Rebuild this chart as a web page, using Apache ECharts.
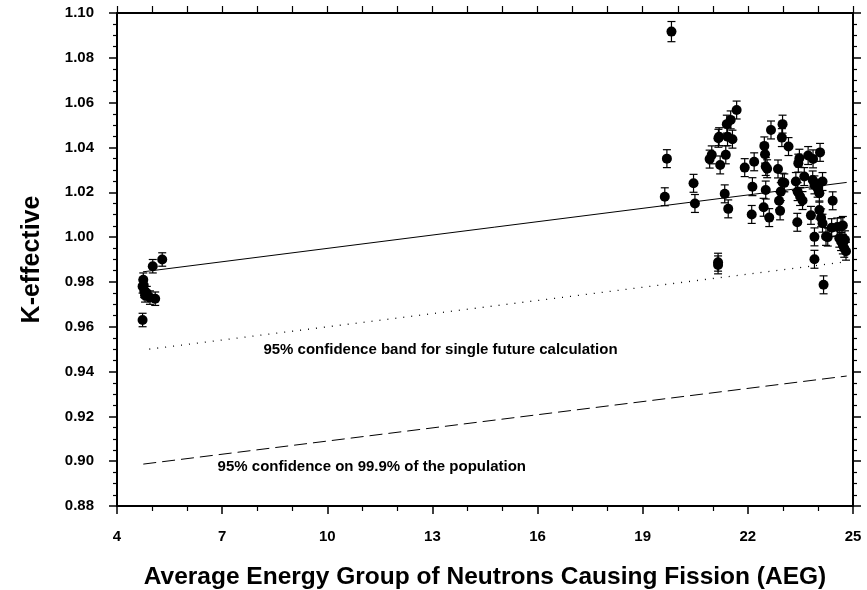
<!DOCTYPE html>
<html>
<head>
<meta charset="utf-8">
<script src="https://cdn.jsdelivr.net/npm/echarts@6/dist/echarts.min.js"></script>
<style>
  html, body { margin: 0; padding: 0; background: #fff; }
  #chart { width: 867px; height: 590px; }
</style>
</head>
<body>
<div id="chart"></div>
<script>
// 测量点: AEG, k-eff, 1-sigma
const aeg = [
    4.73, 4.75, 4.73, 4.76, 4.78, 4.80, 4.85, 4.94, 5.09, 5.02, 5.29,
    19.82, 19.69, 19.63, 20.45, 20.49, 20.91, 20.97, 21.21, 21.16, 21.18,
    21.37, 21.34, 21.44, 21.15, 21.15, 21.42, 21.56, 21.40, 21.51, 21.68,
    21.91, 22.18, 22.13, 22.11, 22.47, 22.49, 22.51, 22.55, 22.51, 22.45,
    22.61, 22.66, 22.86, 22.99, 22.97, 23.16, 22.99, 23.04, 22.94, 22.89,
    22.92, 23.37, 23.47, 23.44, 23.42, 23.49, 23.56, 23.41, 23.61, 23.72,
    23.86, 24.06, 23.85, 23.90, 23.99, 24.04, 24.13, 23.80, 24.04, 24.09,
    24.13, 23.90, 24.23, 24.28, 23.90, 24.16, 24.42, 24.39, 24.55, 24.66,
    24.71, 24.61, 24.66, 24.71, 24.75, 24.80, 24.77
];
const keff = [
    0.963, 0.981, 0.978, 0.9785, 0.976, 0.974, 0.975, 0.973, 0.9725, 0.987, 0.990,
    1.0917, 1.0350, 1.0180, 1.0240, 1.0150, 1.0348, 1.0367, 1.0322, 1.0441, 1.0448,
    1.0367, 1.0193, 1.0126, 0.9888, 0.9876, 1.0448, 1.0437, 1.0504, 1.0523, 1.0567,
    1.0310, 1.0336, 1.0225, 1.0101, 1.0407, 1.0370, 1.0315, 1.0305, 1.0210, 1.0133,
    1.0087, 1.0478, 1.0304, 1.0504, 1.0444, 1.0404, 1.0245, 1.0242, 1.0203, 1.0162,
    1.0117, 1.0248, 1.0352, 1.0330, 1.0203, 1.0181, 1.0163, 1.0066, 1.0270, 1.0364,
    1.0349, 1.0378, 1.0255, 1.0233, 1.0218, 1.0196, 1.0248, 1.0097, 1.0121, 1.0086,
    1.0062, 1.0001, 1.0003, 1.0000, 0.9901, 0.9787, 1.0162, 1.0042, 1.0045, 1.0047,
    1.0052, 0.9995, 0.9980, 0.9965, 0.9950, 0.9937, 0.9988
];
const sigma = aeg.map((x, i) => (i < 11 ? 0.003 : (i === 11 ? 0.0045 : 0.004)));

// 拟合线及置信带
const fitX = [4.74, 24.82];
const fitY = [0.9845, 1.0244];
const bandX = [4.92, 24.82];
const bandY = [0.9500, 0.9890];
const popX = [4.75, 24.82];
const popY = [0.8987, 0.9380];

const xTicks = [4, 7, 10, 13, 16, 19, 22, 25];

const points = aeg.map((x, i) => [x, keff[i]]);
const bars = aeg.map((x, i) => [x, keff[i] - sigma[i], keff[i] + sigma[i]]);

const FONT = "Liberation Sans, Arial, Helvetica, sans-serif";

const chart = echarts.init(document.getElementById("chart"));

function errorBar(params, api) {
    const x = api.value(0);
    const lo = api.coord([x, api.value(1)]);
    const hi = api.coord([x, api.value(2)]);
    const w = 4;
    const style = { stroke: "#000", lineWidth: 1.2 };
    return {
        type: "group",
        children: [
            { type: "line", shape: { x1: lo[0], y1: lo[1], x2: hi[0], y2: hi[1] }, style },
            { type: "line", shape: { x1: lo[0] - w, y1: lo[1], x2: lo[0] + w, y2: lo[1] }, style },
            { type: "line", shape: { x1: hi[0] - w, y1: hi[1], x2: hi[0] + w, y2: hi[1] }, style },
        ],
    };
}

const axisLine = { show: true, onZero: false, lineStyle: { color: "#000", width: 2 } };

chart.setOption({
    animation: false,
    textStyle: { fontFamily: FONT },
    grid: { left: 117, right: 14, top: 13, bottom: 84, containLabel: false, outerBoundsMode: "none" },
    xAxis: [{
        type: "value",
        min: 4, max: 25, interval: 3,
        position: "bottom",
        axisLine,
        axisTick: { show: true, length: 8, lineStyle: { color: "#000", width: 1.5 } },
        minorTick: { show: true, splitNumber: 3, length: 5, lineStyle: { color: "#000", width: 1.2 } },
        splitLine: { show: false },
        axisLabel: {
            margin: 23, color: "#000", fontSize: 15, fontWeight: "bold", fontFamily: FONT,
            formatter: (v) => (xTicks.includes(v) ? String(v) : ""),
        },
        name: "Average Energy Group of Neutrons Causing Fission (AEG)",
        nameLocation: "middle",
        nameGap: 59,
        nameTextStyle: { color: "#000", fontSize: 24.5, fontWeight: "bold", fontFamily: FONT },
    }, {
        type: "value",
        min: 4, max: 25, interval: 1,
        position: "top",
        axisLine,
        axisTick: { show: true, length: 7, lineStyle: { color: "#000", width: 1.2 } },
        axisLabel: { show: false },
        splitLine: { show: false },
    }],
    yAxis: [{
        type: "value",
        min: 0.88, max: 1.10, interval: 0.02,
        position: "left",
        axisLine,
        axisTick: { show: true, length: 8, lineStyle: { color: "#000", width: 1.5 } },
        minorTick: { show: true, splitNumber: 4, length: 4, lineStyle: { color: "#000", width: 1.2 } },
        splitLine: { show: false },
        axisLabel: {
            margin: 23, color: "#000", fontSize: 15, fontWeight: "bold", fontFamily: FONT,
            formatter: (v) => v.toFixed(2),
        },
        name: "K-effective",
        nameLocation: "middle",
        nameGap: 72,
        nameTextStyle: { color: "#000", fontSize: 25, fontWeight: "bold", fontFamily: FONT },
    }, {
        type: "value",
        min: 0.88, max: 1.10, interval: 0.02,
        position: "right",
        axisLine,
        axisTick: { show: true, length: 8, lineStyle: { color: "#000", width: 1.5 } },
        minorTick: { show: true, splitNumber: 4, length: 4, lineStyle: { color: "#000", width: 1.2 } },
        axisLabel: { show: false },
        splitLine: { show: false },
    }],
    series: [
        {
            type: "line",
            data: fitX.map((x, i) => [x, fitY[i]]),
            symbol: "none",
            lineStyle: { color: "#000", width: 1 },
            z: 2,
        },
        {
            type: "line",
            data: bandX.map((x, i) => [x, bandY[i]]),
            symbol: "none",
            lineStyle: { color: "#000", width: 1.3, type: [1, 7] },
            z: 2,
        },
        {
            type: "line",
            data: popX.map((x, i) => [x, popY[i]]),
            symbol: "none",
            lineStyle: { color: "#000", width: 1, type: [13, 6] },
            z: 2,
        },
        {
            type: "custom",
            renderItem: errorBar,
            data: bars,
            encode: { x: 0, y: [1, 2] },
            z: 3,
        },
        {
            type: "scatter",
            data: points,
            symbol: "circle",
            symbolSize: 10,
            itemStyle: { color: "#000", opacity: 1 },
            z: 4,
        },
        {
            // 文字标注
            type: "scatter",
            symbolSize: 0,
            silent: true,
            itemStyle: { color: "#000", opacity: 1 },
            data: [
                { value: [13.23, 0.9497], label: { formatter: "95% confidence band for single future calculation" } },
                { value: [11.27, 0.8975], label: { formatter: "95% confidence on 99.9% of the population" } },
            ],
            label: {
                show: true, position: "inside", color: "#000", textBorderWidth: 0,
                fontSize: 15, fontWeight: "bold", fontFamily: FONT,
            },
            z: 5,
        },
    ],
});
</script>
</body>
</html>
